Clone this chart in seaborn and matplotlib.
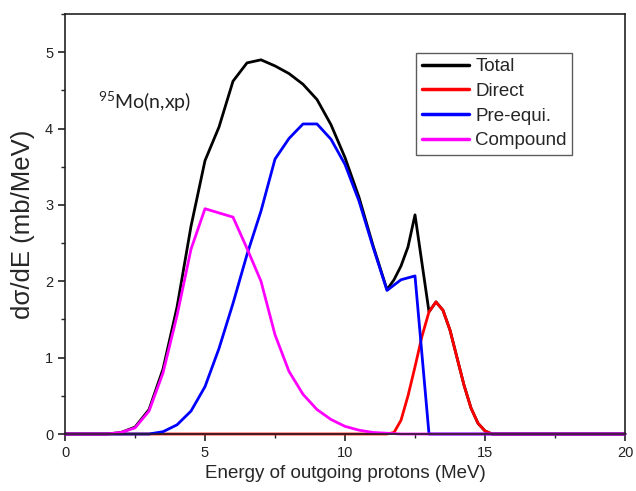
import numpy as np
import pandas as pd
import matplotlib
matplotlib.use("Agg")
import matplotlib.pyplot as plt
import seaborn as sns
from matplotlib.ticker import MultipleLocator

# ---- data ----
total_x = [0.0, 1.5, 2.0, 2.5, 3.0, 3.5, 4.0, 4.5, 5.0, 5.5, 6.0, 6.5, 7.0, 7.5, 8.0,
           8.5, 9.0, 9.5, 10.0, 10.5, 11.0, 11.5, 11.75, 12.0, 12.25, 12.5, 13.0,
           13.25, 13.5, 13.75, 14.0, 14.25, 14.5, 14.75, 15.0, 15.25, 20.0]
total_y = [0.0, 0.0, 0.02, 0.09, 0.32, 0.85, 1.66, 2.72, 3.58, 4.02, 4.62, 4.86, 4.9, 4.82, 4.72,
           4.58, 4.38, 4.05, 3.62, 3.1, 2.47, 1.89, 2.02, 2.2, 2.45, 2.87, 1.6,
           1.73, 1.62, 1.36, 1.0, 0.64, 0.34, 0.14, 0.04, 0.0, 0.0]

direct_x = [0.0, 11.5, 11.75, 12.0, 12.25, 12.5, 12.75, 13.0, 13.25, 13.5, 13.75,
            14.0, 14.25, 14.5, 14.75, 15.0, 15.25, 20.0]
direct_y = [0.0, 0.0, 0.02, 0.18, 0.5, 0.88, 1.28, 1.6, 1.73, 1.62, 1.36,
            1.0, 0.64, 0.34, 0.14, 0.04, 0.0, 0.0]

pre_x = [0.0, 3.0, 3.5, 4.0, 4.5, 5.0, 5.5, 6.0, 6.5, 7.0, 7.5, 8.0, 8.5, 9.0, 9.5,
         10.0, 10.5, 11.0, 11.5, 12.0, 12.5, 13.0, 20.0]
pre_y = [0.0, 0.0, 0.03, 0.12, 0.3, 0.62, 1.12, 1.71, 2.35, 2.92, 3.6, 3.87, 4.06, 4.06, 3.86,
         3.53, 3.05, 2.45, 1.88, 2.02, 2.07, 0.0, 0.0]

comp_x = [0.0, 1.5, 2.0, 2.5, 3.0, 3.5, 4.0, 4.5, 5.0, 6.0, 6.5, 7.0, 7.5, 8.0, 8.5,
          9.0, 9.5, 10.0, 10.5, 11.0, 11.5, 12.0, 20.0]
comp_y = [0.0, 0.0, 0.02, 0.08, 0.3, 0.8, 1.55, 2.42, 2.95, 2.84, 2.43, 2.0, 1.3, 0.82, 0.52,
          0.32, 0.19, 0.1, 0.05, 0.02, 0.01, 0.0, 0.0]

series_names = ["Total", "Direct", "Pre-equi.", "Compound"]
series_colors = ["#000000", "#ff0000", "#0000ff", "#ff00ff"]
x_ticks = [0, 5, 10, 15, 20]
y_ticks = [0, 1, 2, 3, 4, 5]

frames = []
for name, xs, ys in zip(series_names, [total_x, direct_x, pre_x, comp_x],
                        [total_y, direct_y, pre_y, comp_y]):
    frames.append(pd.DataFrame({"E": xs, "val": ys, "series": name,
                                "order": np.arange(len(xs))}))
df = pd.concat(frames, ignore_index=True)

sns.set_style("white")
plt.rcParams["font.family"] = ["Liberation Sans", "DejaVu Sans"]
plt.rcParams["mathtext.fontset"] = "custom"
plt.rcParams["mathtext.rm"] = "Lato"

fig = plt.figure(figsize=(6.36, 4.91), dpi=100)
ax = fig.add_axes([65 / 636, 1 - 434 / 491, 560 / 636, 420 / 491])

sns.lineplot(data=df, x="E", y="val", hue="series", hue_order=series_names,
             palette=dict(zip(series_names, series_colors)), sort=False,
             estimator=None, linewidth=2.0, ax=ax)
for ln in ax.get_lines():
    ln.set_clip_on(False)

ax.set_xlim(0, 20)
ax.set_ylim(0, 5.5)
ax.set_xticks(x_ticks)
ax.set_yticks(y_ticks)
ax.xaxis.set_minor_locator(MultipleLocator(2.5))
ax.yaxis.set_minor_locator(MultipleLocator(0.5))
ax.tick_params(which="major", direction="out", length=5, width=1.2, colors="#222222",
               labelsize=10.5, bottom=True, left=True, top=False, right=False)
ax.tick_params(which="minor", direction="out", length=3, width=1.0, colors="#222222",
               bottom=True, left=True, top=False, right=False)
for lab in ax.get_xticklabels() + ax.get_yticklabels():
    lab.set_color("#222222")
for sp in ax.spines.values():
    sp.set_color("#222222")
    sp.set_linewidth(1.2)
    sp.set_visible(True)

ax.set_xlabel("Energy of outgoing protons (MeV)", fontsize=13.5, labelpad=4)
ax.set_ylabel("dσ/dE (mb/MeV)", fontsize=18.5, labelpad=7)

ax.text(1.18, 4.35, r"$^{\mathrm{95}}$Mo(n,xp)", fontsize=14, family="Lato",
        va="center", ha="left", color="#222222")

leg = ax.legend(loc="upper left", bbox_to_anchor=(0.627, 0.908), frameon=True,
                fancybox=False, edgecolor="#333333", fontsize=13.5, handlelength=2.5,
                handletextpad=0.35, labelspacing=0.4, borderpad=0.3, borderaxespad=0)
leg.get_frame().set_linewidth(1.0)
for h in leg.get_lines():
    h.set_linewidth(2.5)

fig.savefig("out.png", dpi=100)
